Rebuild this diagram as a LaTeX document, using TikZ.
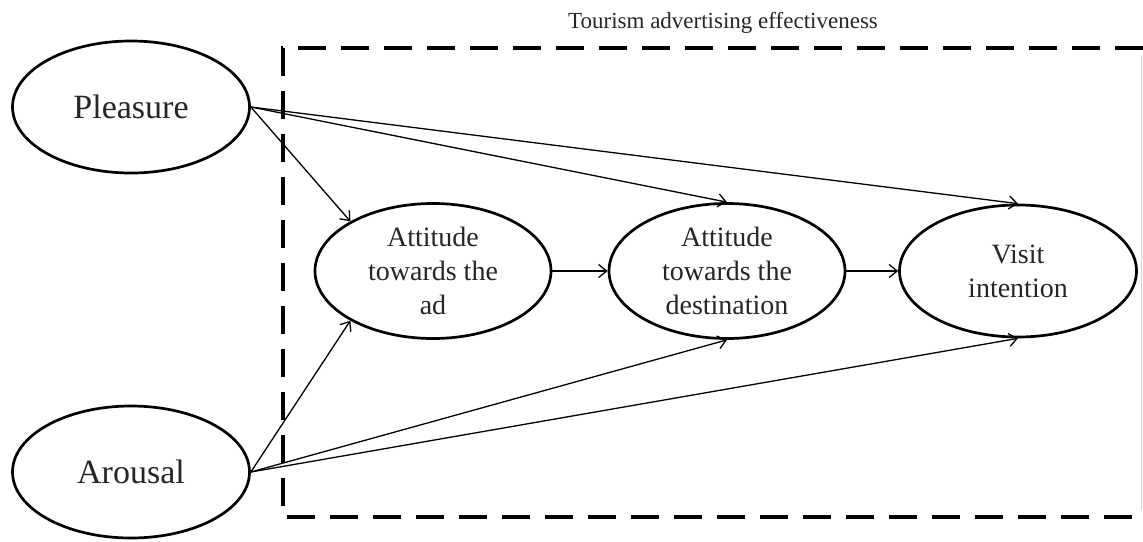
\documentclass[tikz,border=0pt]{standalone}
\usepackage{fontspec}
\setmainfont{Liberation Serif}
\usetikzlibrary{shapes.geometric,arrows.meta}
\begin{document}
\begin{tikzpicture}[x=1pt,y=-1pt,
  oval/.style={draw=black,ellipse,line width=2.7pt,inner sep=0pt,align=center,text=black!85},
  big/.style={oval,minimum width=237pt,minimum height=132pt,font=\fontsize{34}{40}\selectfont},
  mid/.style={oval,minimum width=236pt,minimum height=135pt,font=\fontsize{28}{34}\selectfont},
  link/.style={line width=1.3pt,-{Straight Barb[length=8pt,width=13pt,line width=1.3pt]}},
  boxline/.style={line width=3.4pt,dash pattern=on 28pt off 15pt}]
\path[use as bounding box,fill=white] (0,0) rectangle (1143,541);
% dashed box
\coordinate (tl) at (283,48);
\coordinate (tr) at (1143,48);
\coordinate (bl) at (283,517);
\coordinate (br) at (1143,517);
\draw[boxline] (tr) -- (tl) -- (bl) -- (br);
\draw[gray!35,line width=1pt] (1141,55) -- (1141,510);
\node[font=\fontsize{23}{27}\selectfont,text=black!85] (title) at (723,23) {Tourism advertising effectiveness};
% nodes
\node[big] (pl) at (131,107) {Pleasure};
\node[big] (ar) at (131,472) {Arousal};
\node[mid] (ad) at (433,271) {Attitude\\towards the\\ad};
\node[mid] (de) at (727,271) {Attitude\\towards the\\destination};
\node[mid,minimum width=237pt,minimum height=132pt] (vi) at (1018,271) {Visit\\intention};
% links
\draw[link] (pl.east) -- (ad.149);
\draw[link] (pl.east) -- (de.north);
\draw[link] (pl.east) -- (vi.north);
\draw[link] (ar.east) -- (ad.211);
\draw[link] (ar.east) -- (de.south);
\draw[link] (ar.east) -- (vi.south);
\draw[link] (ad.east) -- (de.west);
\draw[link] (de.east) -- (vi.west);
\end{tikzpicture}
\end{document}
